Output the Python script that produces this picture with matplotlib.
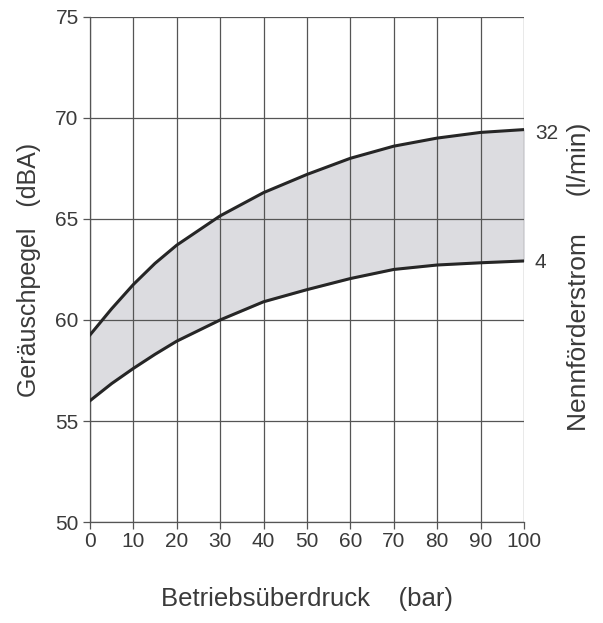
import matplotlib
matplotlib.use("Agg")
import matplotlib.pyplot as plt

plt.rcParams['font.family'] = ['Liberation Sans', 'DejaVu Sans']

# Betriebsüberdruck (bar) and Geräuschpegel (dBA)
druck = [0, 5, 10, 15, 20, 30, 40, 50, 60, 70, 80, 90, 100]
pegel_32 = [59.25, 60.55, 61.75, 62.8, 63.7, 65.15, 66.3, 67.2, 68.0, 68.6, 69.0, 69.28, 69.42]
pegel_4 = [56.0, 56.85, 57.6, 58.3, 58.95, 60.0, 60.9, 61.5, 62.05, 62.5, 62.72, 62.83, 62.92]
strom_labels = ["32", "4"]

x_ticks = list(range(0, 101, 10))
y_ticks = [50, 55, 60, 65, 70, 75]

fig = plt.figure(figsize=(6.03, 6.23), dpi=100)
ax = fig.add_axes([0.149, 0.162, 0.72, 0.811])

txt = '#3a3a3a'
gridc = '#555555'

ax.fill_between(druck, pegel_4, pegel_32, color='#dcdce0', zorder=1)
ax.plot(druck, pegel_32, color='#262626', lw=2.2, zorder=3)
ax.plot(druck, pegel_4, color='#262626', lw=2.2, zorder=3)

ax.set_xlim(0, 100)
ax.set_ylim(50, 75)
ax.set_xticks(x_ticks)
ax.set_yticks(y_ticks)
ax.grid(True, color=gridc, lw=0.9, zorder=2)
ax.set_axisbelow(False)

for s in ['top', 'right']:
    ax.spines[s].set_visible(False)
for s in ['left', 'bottom']:
    ax.spines[s].set_color(gridc)
    ax.spines[s].set_linewidth(0.9)

ax.tick_params(axis='both', colors=gridc, labelcolor=txt, labelsize=15,
               length=5, width=0.9, pad=2)
ax.tick_params(axis='y', pad=3)

ax.set_xlabel('Betriebsüberdruck    (bar)', fontsize=18.5, color=txt, labelpad=26)
ax.set_ylabel('Geräuschpegel   (dBA)', fontsize=18, color=txt, labelpad=10)

# right side labels for the two curves
ax.text(102.5, pegel_32[-1] - 0.2, strom_labels[0], fontsize=15, color=txt,
        va='center', ha='left')
ax.text(102.5, pegel_4[-1] - 0.1, strom_labels[1], fontsize=15, color=txt,
        va='center', ha='left')
fig.text(0.96, 0.555, 'Nennförderstrom     (l/min)', rotation=90, fontsize=19,
         color=txt, ha='center', va='center')

fig.savefig('out.png', dpi=100, facecolor='white')
